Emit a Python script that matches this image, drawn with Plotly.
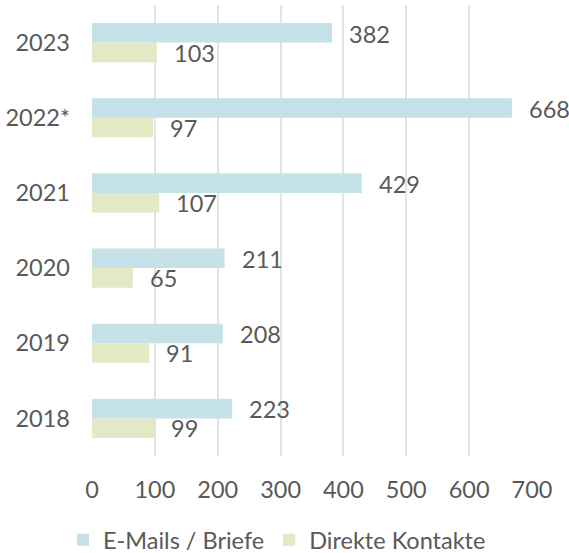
import plotly.graph_objects as go

years = ["2018", "2019", "2020", "2021", "2022*", "2023"]
emails = [223, 208, 211, 429, 668, 382]
kontakte = [99, 91, 65, 107, 97, 103]
x_ticks = [0, 100, 200, 300, 400, 500, 600, 700]

blue = "#C5E2E8"
green = "#E3E8C5"
txt = "#595959"
font = "Lato"
fs = 23.5

fig = go.Figure()
fig.add_trace(go.Bar(y=years, x=kontakte, orientation="h", name="Direkte Kontakte",
                     marker=dict(color=green, line=dict(width=0)), legendrank=2))
fig.add_trace(go.Bar(y=years, x=emails, orientation="h", name="E-Mails / Briefe",
                     marker=dict(color=blue, line=dict(width=0)), legendrank=1))

annotations = []
for i, v in enumerate(emails):
    annotations.append(dict(x=v, y=i, xref="x", yref="y", text=str(v), showarrow=False,
                            xanchor="left", yanchor="middle", xshift=15, yshift=9,
                            font=dict(family=font, size=fs, color=txt)))
for i, v in enumerate(kontakte):
    annotations.append(dict(x=v, y=i, xref="x", yref="y", text=str(v), showarrow=False,
                            xanchor="left", yanchor="middle", xshift=15, yshift=-10,
                            font=dict(family=font, size=fs, color=txt)))

fig.update_layout(
    width=569, height=553,
    margin=dict(l=92, r=37, t=5, b=97),
    barmode="group", bargap=0.48, bargroupgap=0,
    plot_bgcolor="white", paper_bgcolor="white",
    font=dict(family=font, size=fs, color=txt),
    annotations=annotations,
    legend=dict(orientation="h", xref="container", yref="container",
                x=63 / 569, xanchor="left", y=1 - 540 / 553, yanchor="middle",
                font=dict(family=font, size=fs, color=txt), traceorder="normal"),
    xaxis=dict(range=[0, 700], tickvals=x_ticks, showgrid=True, gridcolor="#E3E3E3",
               gridwidth=1.5, zeroline=False, showline=False, ticklabelstandoff=17,
               automargin=False),
    yaxis=dict(type="category", categoryorder="array", categoryarray=years,
               range=[-0.5, len(years) - 0.5], automargin=False,
               showgrid=False, zeroline=False, showline=False, ticklabelstandoff=21),
)
fig.write_html("out.html", config={"displayModeBar": False},
               post_script="document.body.style.margin='0';document.body.style.overflow='hidden';")
